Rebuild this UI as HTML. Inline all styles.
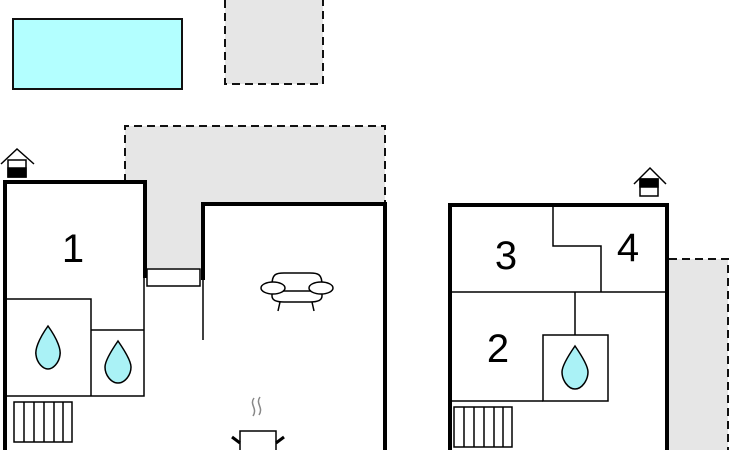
<!DOCTYPE html>
<html><head><style>html,body{margin:0;padding:0;background:#fff;}svg{display:block}</style></head>
<body>
<svg width="730" height="450" viewBox="0 0 730 450" xmlns="http://www.w3.org/2000/svg" font-family="Liberation Sans, sans-serif">
<!-- pool -->
<rect x="13" y="19" width="169" height="70" fill="#b3ffff" stroke="#111" stroke-width="2"/>
<!-- dashed gray square -->
<rect x="225" y="-5" width="98" height="89" fill="#e6e6e6"/>
<path d="M225 0 V84 H323 V0" fill="none" stroke="#111" stroke-width="2" stroke-dasharray="8,5"/>
<!-- large gray area -->
<path d="M125 126 H385 V204 H203 V268 H146 V182 H125 Z" fill="#e6e6e6"/>
<path d="M125 182 V126 H385 V204" fill="none" stroke="#111" stroke-width="2" stroke-dasharray="8,5"/>
<!-- right gray -->
<rect x="669" y="259" width="59" height="195" fill="#e6e6e6"/>
<path d="M669 259 H728 V450" fill="none" stroke="#111" stroke-width="2" stroke-dasharray="8,5"/>

<!-- Building 1 -->
<path d="M5 452 V182 H145 V278" fill="none" stroke="#000" stroke-width="4"/>
<g stroke="#000" stroke-width="1.5" fill="none">
<path d="M5 299 H91 V396"/>
<path d="M91 330 H144"/>
<path d="M144 278 V396 H5"/>
<rect x="147" y="269" width="53" height="17"/>
<path d="M203 279 V340"/>
</g>
<!-- window posts -->
<path d="M203 450 V204 H385 V452" fill="none" stroke="#000" stroke-width="0"/>
<path d="M203 280 V204 H385 V452" fill="none" stroke="#000" stroke-width="4"/>
<text x="73" y="262" font-size="40" text-anchor="middle">1</text>
<!-- drops -->
<g fill="#aaf2f6" stroke="#000" stroke-width="1.5">
<path d="M48 326 C38 340 35 350 36 355 C37 363 43 369 48 369 C53 369 59 363 60 355 C61 350 58 340 48 326 Z"/>
<path d="M118 341 C109 354 105 362 105 367 C105 375 111 383 118 383 C125 383 131 375 131 367 C131 362 127 354 118 341 Z"/>
<path d="M575 346 C566 359 562 367 562 372 C562 380 568 389 575 389 C582 389 588 380 588 372 C588 367 584 359 575 346 Z"/>
</g>
<!-- radiators -->
<g fill="none" stroke="#000" stroke-width="1.5">
<rect x="14" y="402" width="58" height="40"/>
<path d="M24 402V442M34 402V442M44 402V442M54 402V442M63 402V442"/>
<rect x="454" y="407" width="58" height="40"/>
<path d="M464 407V447M474 407V447M484 407V447M494 407V447M503 407V447"/>
</g>
<!-- sofa -->
<g fill="#fff" stroke="#000" stroke-width="1.5">
<path d="M272 296 V285 C272 274 276 273 284 273 H310 C318 273 322 274 322 285 V296 C322 300 318 302 310 302 H284 C276 302 272 300 272 296 Z"/>
<ellipse cx="273" cy="288" rx="12" ry="6"/>
<ellipse cx="321" cy="288" rx="12" ry="6"/>
<path d="M280 302 L278 311 M312 302 L314 311 M283 291 H311" fill="none"/>
</g>
<!-- stove -->
<g fill="none">
<path d="M254 398 C249 405 258 408 253 416 M260 397 C255 404 264 407 259 415" stroke="#888" stroke-width="1.5"/>
<rect x="240" y="431" width="36" height="25" fill="#fff" stroke="#000" stroke-width="1.5"/>
<path d="M232 437 L240 443 M284 437 L276 443" stroke="#000" stroke-width="3"/>
</g>
<!-- house icons -->
<g stroke="#000" stroke-width="1.5" fill="#fff">
<path d="M1 164 L17 149 L34 164" fill="none"/>
<rect x="8" y="160" width="18" height="17"/>
<rect x="8" y="168" width="18" height="9" fill="#000"/>
<path d="M634 184 L650 168 L666 184" fill="none"/>
<rect x="640" y="179" width="18" height="17"/>
<rect x="640" y="179" width="18" height="8" fill="#000"/>
</g>
<!-- Right building -->
<rect x="450" y="205" width="217" height="260" fill="none" stroke="#000" stroke-width="4"/>
<g stroke="#000" stroke-width="1.5" fill="none">
<path d="M450 292 H667"/>
<path d="M553 205 V246 H601 V292"/>
<path d="M575 292 V335"/>
<rect x="543" y="335" width="65" height="66"/>
<path d="M450 401 H543"/>
</g>
<text x="506" y="269" font-size="40" text-anchor="middle">3</text>
<text x="628" y="261" font-size="40" text-anchor="middle">4</text>
<text x="498" y="362" font-size="40" text-anchor="middle">2</text>
</svg>
</body></html>
